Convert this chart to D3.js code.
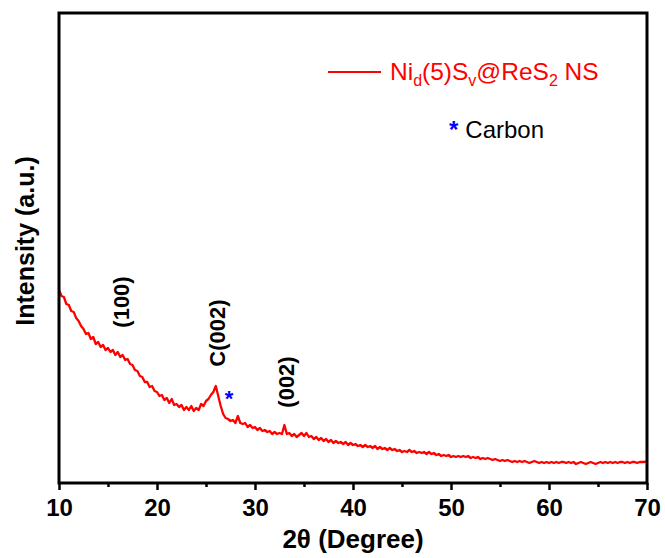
<!DOCTYPE html>
<html>
<head>
<meta charset="utf-8">
<script src="https://cdn.jsdelivr.net/npm/d3@7"></script>
<style>
  body { margin: 0; background: #fff; overflow: hidden; }
  svg { display: block; font-family: Arial, "Liberation Sans", sans-serif; }
</style>
</head>
<body>
<div id="chart"></div>
<script>
// XRD scan, 2theta from 10 to 70 deg, step 0.25 deg
const scanStart = 10;
const scanStep = 0.25;
const intensity = [
  1930, 1870, 1860, 1790,  1780, 1720, 1710, 1650,  1620, 1570, 1540, 1490,  // 10-12
  1500, 1440, 1460, 1390,  1410, 1360, 1380, 1330,  1350, 1310, 1330, 1280,  // 13-15
  1310, 1260, 1280, 1230,  1240, 1190, 1180, 1130,  1120, 1070, 1060, 1010,  // 16-18
  1010, 960, 970, 920,     910, 870, 880, 830,      850, 800, 840, 780,      // 19-21
  790, 760, 780, 730,      760, 730, 770, 720,      750, 730, 790, 770,      // 22-24
  820, 840, 880, 910,      970, 870, 770, 690,      650, 640, 620, 630,      // 25-27
  600, 670, 600, 590,      600, 560, 580, 550,      560, 530, 550, 520,      // 28-30
  530, 510, 520, 490,      510, 490, 500, 490,      580, 490, 500, 470,      // 31-33
  490, 460, 480, 500,      470, 500, 460, 470,      440, 460, 430, 450,      // 34-36
  420, 440, 410, 430,      400, 420, 400, 410,      390, 410, 380, 400,      // 37-39
  380, 390, 370, 380,      360, 380, 360, 370,      350, 370, 340, 360,      // 40-42
  340, 350, 330, 350,      330, 340, 320, 330,      310, 320, 310, 330,      // 43-45
  310, 320, 300, 310,      300, 310, 290, 310,      290, 300, 280, 290,      // 46-48
  270, 280, 270, 280,      260, 270, 260, 270,      260, 270, 260, 270,      // 49-51
  250, 260, 250, 260,      240, 250, 240, 250,      240, 230, 240, 230,      // 52-54
  220, 230, 220, 230,      220, 210, 220, 210,      220, 210, 220, 210,      // 55-57
  200, 210, 220, 210,      200, 210, 200, 210,      200, 210, 200, 210,      // 58-60
  200, 210, 210, 200,      210, 200, 210, 190,      200, 210, 200, 190,      // 61-63
  200, 210, 200, 190,      200, 210, 200, 210,      200, 210, 200, 210,      // 64-66
  200, 210, 210, 200,      210, 200, 210, 210,      200, 210, 210, 210,      // 67-69
  220                                                                        // 70
];
const twoTheta = intensity.map((d, i) => scanStart + i * scanStep);

const xTicks = [10, 20, 30, 40, 50, 60, 70];
const xMinorTicks = [15, 25, 35, 45, 55, 65];

// peak annotations (2theta, intensity level of label centre)
const peakLabels = ["(100)", "C(002)", "(002)"];
const peakTheta = [16.4, 26.2, 33.2];
const peakLevel = [1810, 1500, 1010];
const carbonMarkTheta = 27.35;
const carbonMarkLevel = 900;

// legend label pieces: [text, subscript?]
const seriesLabelParts = [["Ni", false], ["d", true], ["(5)S", false], ["v", true],
                          ["@ReS", false], ["2", true], [" NS", false]];

const width = 665, height = 558;
const margin = {top: 13, right: 18, bottom: 75, left: 59};
const innerWidth = width - margin.left - margin.right;
const innerHeight = height - margin.top - margin.bottom;

const svg = d3.select("#chart").append("svg")
    .attr("width", width)
    .attr("height", height);

const g = svg.append("g")
    .attr("transform", `translate(${margin.left},${margin.top})`);

const x = d3.scaleLinear().domain([10, 70]).range([0, innerWidth]);
const y = d3.scaleLinear().domain([0, 4700]).range([innerHeight, 0]);

// curve
g.append("path")
    .datum(twoTheta.map((t, i) => ({t: t, v: intensity[i]})))
    .attr("fill", "none")
    .attr("stroke", "#ff0000")
    .attr("stroke-width", 2.3)
    .attr("stroke-linejoin", "round")
    .attr("d", d3.line().x(d => x(d.t)).y(d => y(d.v)));

// bottom axis, major and minor ticks
const xAxis = g.append("g")
    .attr("transform", `translate(0,${innerHeight})`)
    .call(d3.axisBottom(x).tickValues(xTicks).tickSize(7).tickPadding(9).tickFormat(d3.format("d")));
xAxis.select(".domain").remove();
xAxis.selectAll(".tick line").attr("stroke", "#000").attr("stroke-width", 2.5);
xAxis.selectAll("text")
    .attr("fill", "#000")
    .style("font-size", "24px")
    .style("font-weight", "bold");

g.append("g")
    .attr("transform", `translate(0,${innerHeight})`)
    .call(d3.axisBottom(x).tickValues(xMinorTicks).tickSize(4).tickFormat(""))
    .call(a => a.select(".domain").remove())
    .selectAll(".tick line").attr("stroke", "#000").attr("stroke-width", 2.5);

// frame
g.append("rect")
    .attr("x", 0).attr("y", 0)
    .attr("width", innerWidth).attr("height", innerHeight)
    .attr("fill", "none")
    .attr("stroke", "#000")
    .attr("stroke-width", 3);

// axis titles
svg.append("text")
    .attr("x", margin.left + innerWidth / 2)
    .attr("y", 548)
    .attr("text-anchor", "middle")
    .style("font-size", "26px")
    .style("font-weight", "bold")
    .text("2θ (Degree)");

svg.append("text")
    .attr("transform", `translate(34,${margin.top + 228}) rotate(-90)`)
    .attr("text-anchor", "middle")
    .style("font-size", "25px")
    .style("font-weight", "bold")
    .text("Intensity (a.u.)");

// peak labels
g.selectAll(".peak-label")
    .data(peakLabels)
    .enter().append("text")
    .attr("class", "peak-label")
    .attr("transform", (d, i) => `translate(${x(peakTheta[i])},${y(peakLevel[i])}) rotate(-90)`)
    .attr("text-anchor", "middle")
    .attr("dy", "0.35em")
    .style("font-size", "22px")
    .style("font-weight", "bold")
    .text(d => d);

g.append("text")
    .attr("x", x(carbonMarkTheta))
    .attr("y", y(carbonMarkLevel))
    .attr("dy", "0.6em")
    .attr("text-anchor", "middle")
    .attr("fill", "#0000ff")
    .style("font-size", "22px")
    .style("font-weight", "bold")
    .text("*");

// legend
const legend = svg.append("g");
legend.append("line")
    .attr("x1", 328).attr("x2", 381)
    .attr("y1", 72).attr("y2", 72)
    .attr("stroke", "#ff0000")
    .attr("stroke-width", 2);

// each piece of the series name is its own text, placed after the previous one
let cursor = 390;
seriesLabelParts.forEach(([txt, isSub]) => {
    const t = legend.append("text")
        .attr("x", cursor)
        .attr("y", isSub ? 86 : 80)
        .attr("fill", "#ff0000")
        .style("font-size", isSub ? "16px" : "24.5px")
        .style("white-space", "pre")
        .attr("xml:space", "preserve")
        .text(txt);
    cursor += t.node().getComputedTextLength();
});

const star = legend.append("text")
    .attr("x", 449).attr("y", 138)
    .attr("fill", "#0000ff")
    .style("font-size", "24px")
    .style("font-weight", "bold")
    .text("*");
legend.append("text")
    .attr("x", 449 + star.node().getComputedTextLength() + 7)
    .attr("y", 138)
    .attr("fill", "#000")
    .style("font-size", "24px")
    .text("Carbon");
</script>
</body>
</html>
